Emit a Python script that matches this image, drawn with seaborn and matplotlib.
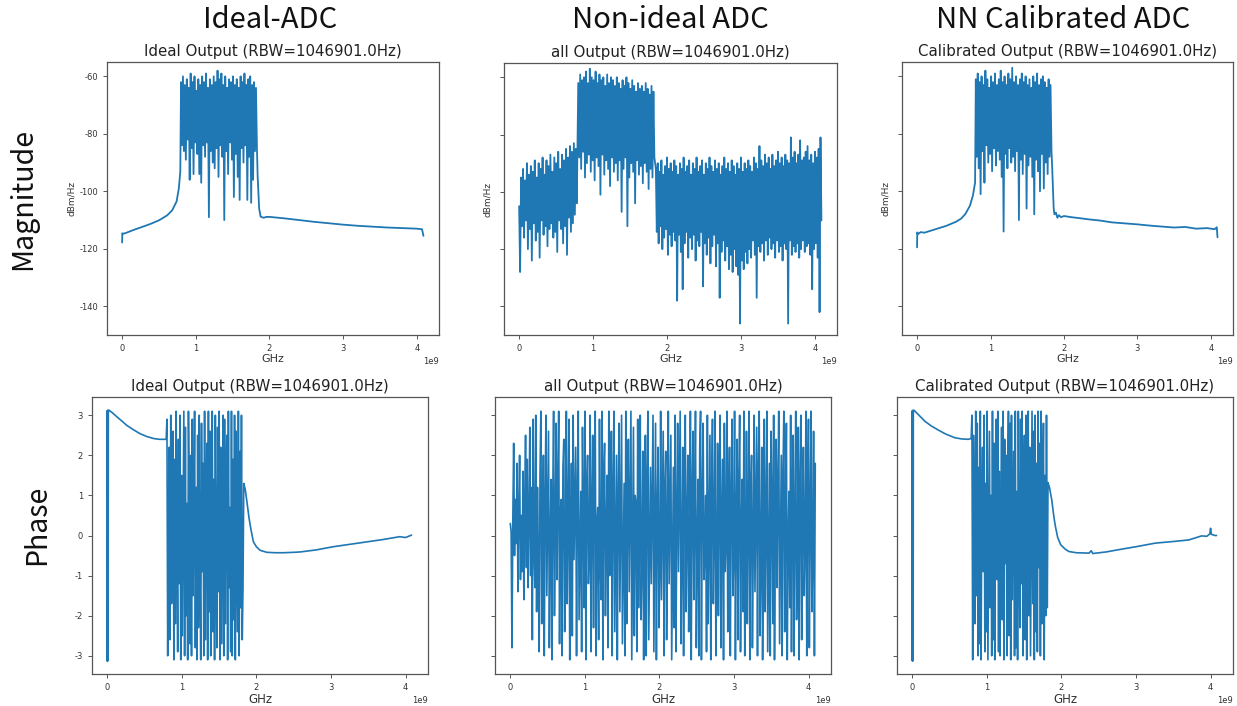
import numpy as np
import seaborn as sns
import matplotlib
matplotlib.use('Agg')
import matplotlib.pyplot as plt

sns.set_style('ticks')
plt.rcParams['font.family'] = ['DejaVu Sans']
plt.rcParams['axes.unicode_minus'] = False

BLUE = '#1f77b4'
GHZ = 1e9

# ---------------- magnitude (dBm/Hz) ----------------
# Ideal ADC
mag_ideal_lead_x = [0.0, 0.003, 0.01, 0.05, 0.1, 0.16, 0.25, 0.38, 0.5, 0.61, 0.68, 0.74, 0.77, 0.79]
mag_ideal_lead_y = [-117.8, -114.6, -114.8, -114.5, -114.0, -113.4, -112.6, -111.4, -110.1, -108.4,
                    -106.6, -103.5, -99.0, -93.0]
mag_ideal_band = [-62, -84, -60, -86, -63, -89, -61, -82, -64, -96, -59, -85, -62, -94, -60, -83,
                  -65, -87, -61, -94, -63, -97, -60, -84, -62, -88, -59, -83, -64, -109, -61, -86,
                  -63, -90, -60, -92, -62, -85, -58, -95, -61, -84, -59, -88, -63, -110, -60, -86,
                  -64, -94, -61, -83, -62, -89, -60, -102, -63, -87, -61, -95, -64, -103, -60, -85,
                  -62, -90, -59, -84, -63, -103, -61, -88, -60, -104, -63, -96, -62, -86, -64, -85]
mag_ideal_tail_x = [1.84, 1.86, 1.88, 1.92, 1.96, 2.0, 2.2, 2.4, 2.6, 2.8, 3.0, 3.2, 3.4, 3.6, 3.8,
                    4.0, 4.07, 4.09]
mag_ideal_tail_y = [-95, -106, -108.8, -109.2, -108.9, -108.9, -109.4, -110.0, -110.6, -111.1,
                    -111.6, -112.0, -112.3, -112.6, -112.8, -113.0, -113.2, -115.5]

# Non-ideal ADC: three noisy regions
mag_all_low = [-105, -128, -95, -112, -92, -116, -96, -110, -90, -120, -94, -113, -91, -124, -93,
               -111, -89, -117, -95, -114, -90, -123, -92, -110, -88, -115, -94, -112, -89, -119,
               -91, -113, -87, -111, -93, -116, -88, -114, -90, -121, -86, -110, -92, -113, -87,
               -118, -89, -112, -85, -122, -88, -109, -84, -114, -86, -111, -83, -108, -85, -104]
mag_all_band = [-62, -88, -59, -92, -61, -86, -60, -95, -58, -90, -62, -87, -57, -93, -60, -89,
                -61, -96, -58, -88, -62, -91, -59, -101, -61, -87, -60, -94, -63, -89, -59, -92,
                -62, -98, -60, -88, -61, -93, -63, -90, -60, -96, -62, -89, -64, -107, -61, -92,
                -63, -88, -60, -112, -62, -95, -64, -90, -61, -93, -63, -104, -65, -89, -62, -94,
                -64, -91, -63, -97, -65, -90, -62, -93, -64, -99, -66, -92, -63, -95, -65, -88]
mag_all_high = [-92, -114, -90, -118, -93, -112, -89, -120, -94, -116, -91, -113, -88, -122, -92, -115, -90, -119, -93, -114,
                -89, -117, -91, -138, -94, -115, -90, -121, -92, -134, -88, -118, -93, -114, -91, -123, -89, -116, -94, -120,
                -90, -115, -92, -124, -88, -117, -93, -119, -91, -114, -89, -133, -94, -118, -90, -122, -92, -116, -88, -125,
                -91, -119, -93, -115, -89, -126, -92, -118, -90, -137, -94, -121, -91, -117, -88, -124, -92, -119, -90, -127,
                -93, -122, -89, -128, -91, -120, -94, -126, -90, -129, -92, -146, -88, -124, -93, -127, -90, -121, -92, -125,
                -89, -120, -91, -123, -93, -117, -88, -122, -90, -137, -92, -119, -84, -121, -89, -118, -91, -124, -87, -117,
                -90, -122, -88, -116, -92, -120, -87, -118, -91, -123, -89, -117, -86, -121, -90, -119, -88, -124, -91, -118,
                -87, -120, -89, -146, -90, -117, -81, -122, -88, -119, -86, -121, -90, -118, -87, -123, -82, -120, -89, -117,
                -88, -121, -86, -119, -84, -118, -89, -122, -87, -134, -90, -120, -86, -118, -88, -123, -85, -142, -81, -110]

# NN calibrated ADC
mag_cal_lead_x = [0.0, 0.003, 0.01, 0.05, 0.1, 0.2, 0.3, 0.4, 0.53, 0.6, 0.66, 0.72, 0.76, 0.79]
mag_cal_lead_y = [-119.5, -114.3, -114.9, -114.2, -114.4, -113.6, -112.8, -112.0, -110.6, -109.5,
                  -107.8, -105.0, -101.5, -97.0]
mag_cal_band = [-61, -88, -59, -92, -62, -101, -60, -86, -63, -97, -58, -84, -61, -90, -64, -87,
                -60, -93, -62, -85, -59, -91, -63, -86, -61, -89, -58, -95, -62, -114, -60, -87,
                -63, -92, -59, -85, -61, -90, -57, -88, -62, -93, -60, -86, -63, -110, -61, -89,
                -59, -94, -62, -87, -60, -106, -63, -91, -61, -88, -64, -95, -60, -108, -62, -89,
                -59, -93, -63, -100, -61, -87, -60, -99, -62, -90, -64, -94, -61, -88, -63, -86]
mag_cal_tail_x = [1.84, 1.86, 1.87, 1.89, 1.91, 1.93, 1.96, 2.0, 2.1, 2.2, 2.35, 2.5, 2.65, 2.8,
                  3.0, 3.2, 3.35, 3.5, 3.65, 3.8, 3.95, 4.05, 4.08, 4.09]
mag_cal_tail_y = [-92, -106, -108.0, -107.4, -109.2, -108.3, -109.0, -108.6, -109.0, -109.3,
                  -109.8, -110.2, -110.8, -111.1, -111.5, -112.0, -112.3, -112.6, -112.4, -113.0,
                  -112.8, -113.2, -112.5, -116.0]

# ---------------- phase (rad) ----------------
ph_ideal_lead_x = [0.0, 0.002, 0.004, 0.006, 0.008, 0.01, 0.012, 0.014, 0.02, 0.07, 0.13, 0.2,
                   0.26, 0.35, 0.44, 0.53, 0.62, 0.7, 0.79]
ph_ideal_lead_y = [-3.14, 3.12, -3.13, 3.12, -3.12, 3.11, -3.1, 3.12, 3.13, 3.06, 2.96, 2.85,
                   2.75, 2.64, 2.54, 2.47, 2.42, 2.40, 2.40]
ph_ideal_band = [2.9, -3.0, 0.5, 2.2, -2.6, 3.0, -1.7, 0.8, 2.6, -3.1,
                 1.9, -2.2, 3.1, -0.4, -2.9, 2.4, -1.2, 3.0, -3.1, 1.5,
                 -2.5, 0.2, 3.1, -3.0, 2.7, -2.0, 0.8, -3.1, 3.1, 1.0,
                 -2.7, 2.0, -3.0, 2.9, -1.5, 0.6, 3.1, -2.8, 1.2, -3.1,
                 2.5, -2.3, 3.0, -0.8, -3.1, 2.8, -0.9, 1.8, -3.0, 3.1,
                 -2.6, 0.3, 2.3, -3.1, 3.1, -1.9, 2.6, -3.0, 0.9, 3.1,
                 -2.4, 1.4, -3.1, 3.0, -0.5, -2.8, 2.7, -1.4, 3.1, -3.1,
                 2.2, -2.7, 0.4, 3.0, -3.0, 2.9, -2.2, 1.1, 2.5, -3.1,
                 3.1, -1.3, 0.7, -2.9, 3.1, -3.0, 1.9, -2.1, 3.0, -3.1,
                 2.6, -0.6, -2.4, 3.1, -3.0, 2.1, -1.8, 3.0, -2.6, -1.3]
ph_ideal_tail_x = [1.83, 1.85, 1.87, 1.9, 1.92, 1.94, 1.96, 2.0, 2.05, 2.14, 2.25, 2.36, 2.5, 2.59,
                   2.8, 3.03, 3.25, 3.48, 3.7, 3.92, 4.0, 4.08]
ph_ideal_tail_y = [1.30, 1.15, 0.88, 0.45, 0.22, 0.02, -0.16, -0.28, -0.37, -0.42, -0.43, -0.43,
                   -0.42, -0.41, -0.36, -0.28, -0.22, -0.16, -0.10, -0.03, -0.05, 0.01]

ph_all = [0.3, 0.1, -2.8, 0.4, 2.3, -0.5, 0.9, -0.2, 1.8, -1.4, 0.6, 2.0, -1.1, 0.5, -0.9, 1.6, -1.6, 0.8, 2.5, -0.8,
          1.9, -1.3, 0.4, 2.7, -1.0, 1.2, -2.6, 2.9, -0.4, -1.3, 3.0, -1.9, 1.2, -0.6, -2.9, 1.5, 3.1, -2.2, 0.3, 2.0,
          -3.0, 0.8, 3.0, -1.5, 0.5, 2.6, -2.8, -0.2, 1.4, -3.1, 0.9, 3.1, -2.0, 0.1, 2.8, -1.1, 1.3, 3.1, -2.7, 0.6,
          0.9, -3.0, 1.7, 2.4, -2.4, -0.7, 3.1, -1.7, 0.4, 2.9, -3.1, -0.3, 1.8, -2.5, 3.0, -0.6, 0.8, 2.2, -3.0, 1.0,
          3.1, -2.1, -0.5, 1.1, -2.9, 2.7, 0.2, -1.8, 3.1, -3.1, 1.2, 2.0, -1.2, -0.4, 3.0, -2.9, 0.7, 2.5, -2.3, 1.6,
          3.1, -3.0, 0.3, 0.7, -2.6, 2.9, -0.8, -1.6, 3.1, -3.1, 1.5, 2.3, -2.0, 0.2, 1.5, -2.8, 3.1, -1.0, 0.6, 2.6,
          -3.0, 1.1, 3.1, -2.4, -0.2, 2.0, -3.1, 0.9, 2.8, -1.9, 0.4, 3.0, -2.7, -0.6, 1.3, -3.0, 3.1, -2.2, 0.5, 2.4,
          -1.4, 0.8, 3.1, -3.1, -0.3, 2.7, -2.5, 1.0, 0.8, -2.9, 2.9, -1.8, 0.2, 3.0, -2.1, -0.7, 2.1, -3.1, 0.6, 2.5,
          -3.0, 1.4, 3.1, -2.6, -0.4, 1.7, -1.2, 0.9, 3.0, -2.9, 0.1, 2.8, -3.1, 0.6, 2.2, -2.3, -0.9, 3.1, -1.6, 0.4,
          2.6, -3.0, 1.2, 2.1, -2.6, -0.1, 3.1, -1.2, 0.7, 2.5, -3.1, -0.6, 1.7, -2.3, 3.0, -2.9, 0.3, 2.8, -0.9, 1.0,
          3.1, -2.7, -0.5, 2.2, -3.0, 1.4, 3.0, -1.9, 0.2, 2.0, -2.4, -0.8, 3.1, -3.1, 1.0, 2.6, -1.6, 0.5, 3.1, -2.8,
          -0.3, 1.4, -3.0, 2.2, 3.1, -3.1, 0.8, 2.8, -1.1, -0.4, 1.0, -2.9, 3.0, -2.2, 0.3, 2.5, -3.1, 1.1, 2.9, -1.7,
          0.1, 3.1, -3.0, -0.7, 2.3, -2.0, 1.2, 3.0, -2.8, 0.5, 1.9, -3.1, 2.8, -0.9, -0.2, 3.1, -2.4, 0.9, 2.2, -3.0,
          1.0, 2.9, -1.5, -0.5, 3.1, -3.1, 0.4, 2.4, -2.6, 1.3, 3.0, -2.9, 0.2, 1.4, -1.9, 3.1, -3.0, -0.6, 2.6, -2.2,
          0.7, 3.1, -3.1, 1.1, 2.0, -2.8, -0.3, 3.0, -1.4, 0.6, 2.7, -3.0, 1.6, 3.1, -2.5, -0.8, 2.2, -3.1, 0.4, 2.9,
          -1.9, 0.3, 3.1, -2.9, -0.5, 1.8, -3.0, 2.6, 0.9, -2.2, 3.0, -3.1, 0.1, 2.4, -1.3, 1.2, 3.1, -2.7, -0.4, 2.0,
          -3.0, 1.5, 3.1, -2.4, 0.6, 2.8, -3.1, -0.2, 1.1, -1.8, 3.0, -2.9, 0.8, 2.5, -3.0, 0.3, 3.1, -2.1, -0.7, 2.7,
          -3.1, 1.2, 3.0, -2.6, 0.4, 2.2, -1.5, -0.3, 3.1, -3.0, 1.3, 2.9, -2.8, 0.6, 3.1, -1.9, -0.5, 2.6, -3.0, 1.8]

ph_cal_lead_x = [0.0, 0.002, 0.004, 0.006, 0.008, 0.01, 0.012, 0.014, 0.02, 0.08, 0.17, 0.25,
                 0.35, 0.45, 0.57, 0.66, 0.75, 0.79]
ph_cal_lead_y = [-3.12, 3.12, -3.13, 3.10, -3.12, 3.11, -3.1, 3.12, 3.13, 3.02, 2.85, 2.74, 2.63,
                 2.53, 2.44, 2.41, 2.40, 2.42]
ph_cal_band = [3.0, -3.1, 2.5, 0.4, -2.2, 3.1, -1.5, 2.8, -3.0, 1.7,
               -2.7, 3.1, -3.1, 0.6, 2.2, -0.9, 3.0, -2.9, 1.3, -2.4,
               3.1, -3.1, -0.3, 2.6, -1.8, 1.0, -3.0, 3.1, -2.6, 2.3,
               -3.1, 0.9, 2.9, -1.1, 3.1, -2.9, 1.6, -3.0, 0.2, 2.7,
               -2.1, 3.1, -3.1, 2.4, -0.7, 2.0, -3.0, 1.2, 3.1, -2.5,
               2.8, -3.1, 3.0, -1.6, 0.5, 2.1, -3.0, 3.1, -2.8, 1.1,
               -3.1, 3.1, -0.4, -2.3, 2.9, -1.2, 3.1, -3.0, 0.8, 2.5,
               -2.6, 3.0, -3.1, 1.4, 3.1, -2.0, 2.2, -3.0, 0.1, 3.1,
               -1.7, 2.6, -3.1, 3.0, -2.4, 1.8, -2.9, 3.1, -0.8, 2.3,
               -3.0, 3.1, -2.2, 0.9, 2.8, -3.1, 1.5, -2.0, 3.0, -1.8]
ph_cal_tail_x = [1.82, 1.84, 1.87, 1.9, 1.92, 1.95, 1.99, 2.05, 2.1, 2.2, 2.37, 2.4, 2.42, 2.6,
                 2.81, 3.0, 3.26, 3.5, 3.71, 3.88, 3.95, 3.99, 4.0, 4.01, 4.06, 4.08]
ph_cal_tail_y = [1.32, 1.2, 0.89, 0.45, 0.22, -0.05, -0.23, -0.34, -0.40, -0.43, -0.44, -0.38,
                 -0.45, -0.41, -0.34, -0.28, -0.19, -0.15, -0.11, -0.01, -0.02, 0.04, 0.18, 0.03,
                 0.0, 0.0]

col_titles = ['Ideal-ADC', 'Non-ideal ADC', 'NN Calibrated ADC']
sub_titles = ['Ideal Output (RBW=1046901.0Hz)', 'all Output (RBW=1046901.0Hz)',
              'Calibrated Output (RBW=1046901.0Hz)']


def series(lead_x, lead_y, band, band_range, tail_x, tail_y):
    bx = np.linspace(band_range[0], band_range[1], len(band))
    x = np.concatenate([lead_x, bx, tail_x]) * GHZ
    y = np.concatenate([lead_y, band, tail_y])
    return x, y


mag_data = [
    series(mag_ideal_lead_x, mag_ideal_lead_y, mag_ideal_band, (0.80, 1.83), mag_ideal_tail_x, mag_ideal_tail_y),
    (np.concatenate([np.linspace(0, 0.78, len(mag_all_low)),
                     np.linspace(0.80, 1.83, len(mag_all_band)),
                     np.linspace(1.85, 4.09, len(mag_all_high))]) * GHZ,
     np.concatenate([mag_all_low, mag_all_band, mag_all_high])),
    series(mag_cal_lead_x, mag_cal_lead_y, mag_cal_band, (0.80, 1.83), mag_cal_tail_x, mag_cal_tail_y),
]
ph_data = [
    series(ph_ideal_lead_x, ph_ideal_lead_y, ph_ideal_band, (0.80, 1.82), ph_ideal_tail_x, ph_ideal_tail_y),
    (np.linspace(0, 4.09, len(ph_all)) * GHZ, np.array(ph_all)),
    series(ph_cal_lead_x, ph_cal_lead_y, ph_cal_band, (0.80, 1.81), ph_cal_tail_x, ph_cal_tail_y),
]

W, H = 1237, 706
fig = plt.figure(figsize=(W / 100, H / 100), dpi=100)


def px_axes(x0, y0, x1, y1):
    return fig.add_axes([x0 / W, 1 - y1 / H, (x1 - x0) / W, (y1 - y0) / H])


top_boxes = [(107, 62, 439, 335), (504, 63, 837, 335), (902, 62, 1233, 335)]
bot_boxes = [(92, 397, 428, 674), (495, 397, 831, 674), (897, 397, 1233, 674)]


def style(ax):
    for s in ax.spines.values():
        s.set_color('#555555')
        s.set_linewidth(0.9)
    ax.tick_params(colors='#555555', labelcolor='#333333', labelsize=6, length=3, width=0.7)
    ax.xaxis.get_offset_text().set_fontsize(6)
    ax.xaxis.get_offset_text().set_color('#333333')
    ax.set_xlim(-0.2048 * GHZ, 4.3008 * GHZ)
    ax.set_xticks(np.arange(0, 5) * GHZ)


for i, (box, (x, y)) in enumerate(zip(top_boxes, mag_data)):
    ax = px_axes(*box)
    sns.lineplot(x=x, y=y, ax=ax, color=BLUE, linewidth=1.3, estimator=None, sort=False)
    style(ax)
    ax.set_ylim(-150, -55)
    ax.set_yticks([-140, -120, -100, -80, -60])
    if i > 0:
        ax.set_yticklabels([])
    ax.set_title(sub_titles[i], fontsize=10.8, color='#222222', pad=4)
    ax.set_xlabel('GHz', fontsize=8, color='#333333', labelpad=1)
    ax.set_ylabel('dBm/Hz', fontsize=6.5, color='#333333', labelpad=2)

for i, (box, (x, y)) in enumerate(zip(bot_boxes, ph_data)):
    ax = px_axes(*box)
    sns.lineplot(x=x, y=y, ax=ax, color=BLUE, linewidth=1.2, estimator=None, sort=False)
    style(ax)
    ax.set_ylim(-3.456, 3.456)
    ax.set_yticks([-3, -2, -1, 0, 1, 2, 3])
    if i > 0:
        ax.set_yticklabels([])
    ax.set_title(sub_titles[i], fontsize=10.8, color='#222222', pad=4)
    ax.set_xlabel('GHz', fontsize=8.5, color='#333333', labelpad=1)
    ax.set_ylabel('')

cjk = ['Noto Sans CJK SC', 'DejaVu Sans']
for cx, t in zip([270, 670, 1063], col_titles):
    fig.text(cx / W, 1 - 20 / H, t, ha='center', va='center', fontsize=21, family=cjk, color='#111111')
fig.text(23 / W, 1 - 199 / H, 'Magnitude', rotation=90, ha='center', va='center', fontsize=20.5,
         family=cjk, color='#111111')
fig.text(37 / W, 1 - 525 / H, 'Phase', rotation=90, ha='center', va='center', fontsize=20.5,
         family=cjk, color='#111111')

fig.savefig('out.png', dpi=100)
